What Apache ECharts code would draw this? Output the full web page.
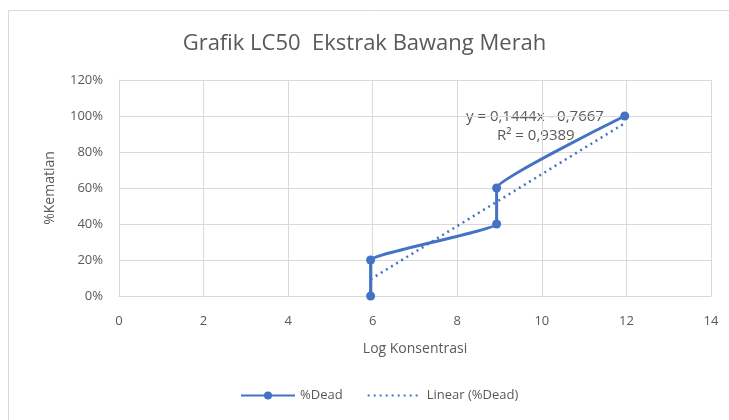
<!DOCTYPE html>
<html>
<head>
<meta charset="utf-8">
<script src="https://cdn.jsdelivr.net/npm/echarts@6/dist/echarts.min.js"></script>
<style>html,body{margin:0;padding:0;background:#fff}#c{width:729px;height:420px}</style>
</head>
<body>
<div id="c"></div>
<script>
var logKonsentrasi = [5.95, 5.95, 8.93, 8.93, 11.96];
var persenDead = [0.0, 0.2, 0.4, 0.6, 1.0];
var trendX = [5.95, 11.96];
var trendY = [0.093, 0.96];
var xTicks = [0, 2, 4, 6, 8, 10, 12, 14];
var yTicks = [0, 0.2, 0.4, 0.6, 0.8, 1.0, 1.2];
var titleText = 'Grafik LC50  Ekstrak Bawang Merah';
var equationText = 'y = 0,1444x - 0,7667';
var r2Text = 'R² = 0,9389';

var deadData = logKonsentrasi.map(function (x, i) { return [x, persenDead[i]]; });
var trendData = trendX.map(function (x, i) { return [x, trendY[i]]; });
var blue = '#4472C4';
var txt = '#595959';
var font = '"Open Sans", "Liberation Sans", sans-serif';

var chart = echarts.init(document.getElementById('c'));
chart.setOption({
  animation: false,
  backgroundColor: '#fff',
  textStyle: { fontFamily: font },
  title: {
    text: titleText, left: 'center', top: 28,
    textStyle: { fontSize: 22, fontWeight: 'normal', color: txt, fontFamily: font }
  },
  grid: { left: 119, right: 18, top: 80, bottom: 124 },
  xAxis: {
    type: 'value', min: 0, max: 14, interval: 2,
    name: 'Log Konsentrasi', nameLocation: 'middle', nameGap: 46,
    nameTextStyle: { fontSize: 14, color: txt },
    axisLine: { show: true, lineStyle: { color: '#d9d9d9' } },
    axisTick: { show: false },
    axisLabel: { fontSize: 13, color: txt, margin: 19 },
    splitLine: { show: true, lineStyle: { color: '#d9d9d9' } }
  },
  yAxis: {
    type: 'value', min: 0, max: 1.2, interval: 0.2,
    name: '%Kematian', nameLocation: 'middle', nameGap: 62, nameRotate: 90,
    nameTextStyle: { fontSize: 14, color: txt },
    axisLine: { show: true, lineStyle: { color: '#d9d9d9' } },
    axisTick: { show: false },
    axisLabel: { fontSize: 13, color: txt, margin: 16,
      formatter: function (v) { return Math.round(v * 100) + '%'; } },
    splitLine: { show: true, lineStyle: { color: '#d9d9d9' } }
  },
  legend: {
    bottom: 13, left: 235, itemGap: 24, itemWidth: 54, itemHeight: 10,
    textStyle: { fontSize: 13, color: txt },
    data: [
      { name: '%Dead' },
      { name: 'Linear (%Dead)', itemStyle: { opacity: 0 } }
    ]
  },
  series: [
    {
      name: '%Dead', type: 'line', data: deadData, smooth: 0.1,
      symbol: 'circle', symbolSize: 9,
      lineStyle: { color: blue, width: 3 },
      itemStyle: { color: blue }
    },
    {
      name: 'Linear (%Dead)', type: 'line', data: trendData,
      symbol: 'circle', showSymbol: false,
      lineStyle: { color: blue, width: 2.5, type: [2, 4] },
      itemStyle: { color: blue }
    }
  ],
  graphic: [
    { type: 'rect', shape: { x: 8.5, y: 10.5, width: 740, height: 430 },
      style: { fill: 'none', stroke: '#d9d9d9', lineWidth: 1 }, silent: true },
    { type: 'text', left: 466, top: 109,
      style: { text: equationText, fill: txt, font: '15px ' + font } },
    { type: 'text', left: 497, top: 128,
      style: { text: r2Text, fill: txt, font: '15px ' + font } }
  ]
});
</script>
</body>
</html>
